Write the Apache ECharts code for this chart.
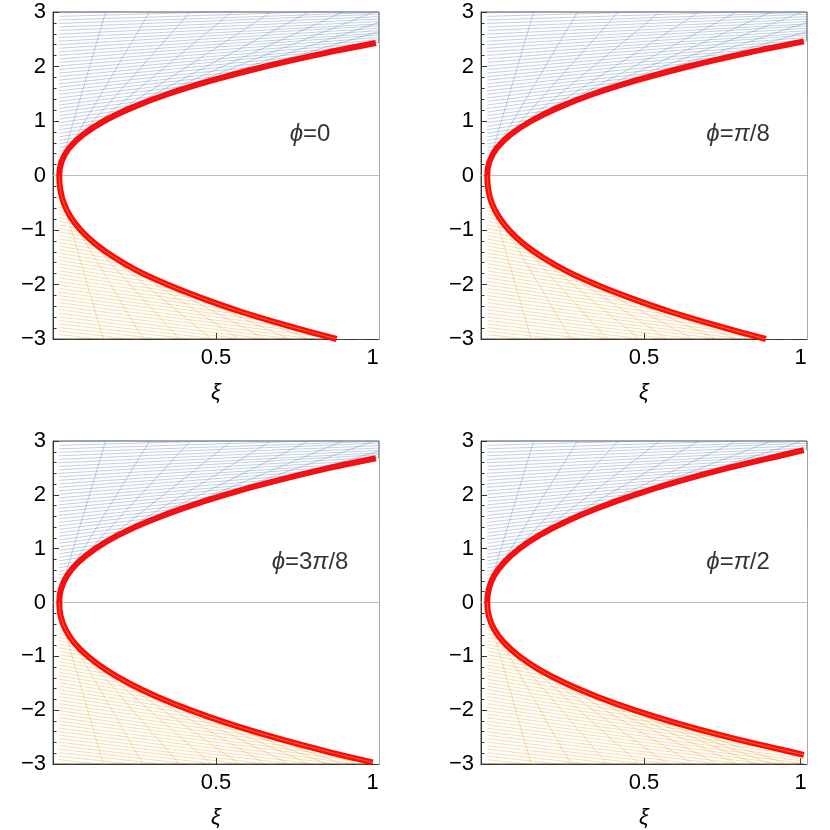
<!DOCTYPE html>
<html><head><meta charset="utf-8">
<script src="https://cdn.jsdelivr.net/npm/echarts@6/dist/echarts.min.js"></script>
<style>html,body{margin:0;padding:0;background:#fff}#c{width:830px;height:830px}</style>
</head><body><div id="c"></div>
<script>
// ---------------- data ----------------
const panelTitles = ['ϕ=0', 'ϕ=π/8', 'ϕ=3π/8', 'ϕ=π/2'];
const titlePos = [0.8, 0.75];
const xTicks = [0.5, 1];

// envelope (red) : [ξ, y] from vertex outwards
const upperP1 = [[0,0],[0.007,0.25],[0.031,0.5],[0.076,0.75],[0.143,1],[0.234,1.25],[0.349,1.5],[0.49,1.75],[0.657,2],[0.851,2.25],[1.01,2.43]];
const lowerP1 = [[0,0],[0.003,-0.25],[0.014,-0.5],[0.035,-0.75],[0.068,-1],[0.114,-1.25],[0.175,-1.5],[0.25,-1.75],[0.345,-2],[0.455,-2.25],[0.58,-2.5],[0.725,-2.75],[0.885,-3]];
const upperP2 = [[0,0],[0.0066,0.25],[0.03,0.5],[0.074,0.75],[0.14,1],[0.228,1.25],[0.34,1.5],[0.478,1.75],[0.641,2],[0.83,2.25],[1.01,2.46]];
const lowerP2 = [[0,0],[0.003,-0.25],[0.014,-0.5],[0.036,-0.75],[0.069,-1],[0.115,-1.25],[0.176,-1.5],[0.252,-1.75],[0.347,-2],[0.458,-2.25],[0.584,-2.5],[0.73,-2.75],[0.889,-3]];
const upperP3 = [[0,0],[0.0055,0.25],[0.025,0.5],[0.061,0.75],[0.115,1],[0.188,1.25],[0.281,1.5],[0.394,1.75],[0.528,2],[0.684,2.25],[0.862,2.5],[1.01,2.68]];
const lowerP3 = [[0,0],[0.0043,-0.25],[0.0198,-0.5],[0.048,-0.75],[0.091,-1],[0.149,-1.25],[0.222,-1.5],[0.312,-1.75],[0.418,-2],[0.541,-2.25],[0.683,-2.5],[0.843,-2.75],[1.0,-2.97]];
const upperP4 = [[0,0],[0.0049,0.25],[0.0223,0.5],[0.0544,0.75],[0.1024,1],[0.167,1.25],[0.25,1.5],[0.351,1.75],[0.47,2],[0.609,2.25],[0.769,2.5],[0.95,2.75],[1.01,2.83]];
const lowerP4 = [[0,0],[0.0049,-0.25],[0.0223,-0.5],[0.0544,-0.75],[0.1024,-1],[0.167,-1.25],[0.25,-1.5],[0.351,-1.75],[0.47,-2],[0.609,-2.25],[0.769,-2.5],[0.95,-2.75],[1.01,-2.83]];

// thin blue lines: intercept at ξ=0 and slope
const blueIntercept = [0.45,0.515,0.58,0.645,0.71,0.775,0.84,0.905,0.97,1.035,
  1.1,1.165,1.23,1.295,1.36,1.425,1.49,1.555,1.62,1.685,
  1.75,1.815,1.88,1.945,2.01,2.075,2.14,2.205,2.27,2.335,
  2.4,2.465,2.53,2.595,2.66,2.725,2.79,2.855,2.92,2.985];
const blueSlope = [1.00,0.98,0.96,0.93,0.91,0.89,0.87,0.85,0.82,0.80,
  0.78,0.76,0.74,0.71,0.69,0.67,0.65,0.62,0.60,0.58,
  0.56,0.54,0.51,0.49,0.47,0.45,0.43,0.40,0.38,0.36,
  0.34,0.31,0.29,0.27,0.25,0.23,0.20,0.18,0.16,0.14];
// thin orange lines
const orangeIntercept = [-0.45,-0.515,-0.58,-0.645,-0.71,-0.775,-0.84,-0.905,-0.97,-1.035,
  -1.1,-1.165,-1.23,-1.295,-1.36,-1.425,-1.49,-1.555,-1.62,-1.685,
  -1.75,-1.815,-1.88,-1.945,-2.01,-2.075,-2.14,-2.205,-2.27,-2.335,
  -2.4,-2.465,-2.53,-2.595,-2.66,-2.725,-2.79,-2.855,-2.92,-2.985];
const orangeSlope = [-1.20,-1.18,-1.17,-1.15,-1.14,-1.12,-1.11,-1.09,-1.08,-1.06,
  -1.05,-1.03,-1.02,-1.00,-0.98,-0.97,-0.95,-0.94,-0.92,-0.91,
  -0.89,-0.88,-0.86,-0.85,-0.83,-0.82,-0.80,-0.78,-0.77,-0.75,
  -0.74,-0.72,-0.71,-0.69,-0.68,-0.66,-0.65,-0.63,-0.62,-0.60];
// steep "fan" lines: where they leave the frame
const blueFanEnd = [[0.148,3],[0.288,3],[0.418,3],[0.55,3],[0.675,3],[0.795,3],[0.905,3],[1.005,3],[1.02,2.81],[1.02,2.64]];
const orangeFanEnd = [[0.14,-3],[0.267,-3],[0.383,-3],[0.485,-3],[0.574,-3],[0.657,-3],[0.733,-3],[0.797,-3],[0.855,-3],[0.905,-3],[0.955,-3]];

// ---------------- layout ----------------
const xMin = -0.02, xMax = 1.02, yMin = -3, yMax = 3;
const gridPos = [[53,12],[481,12],[53,441],[481,441]];
const panels = [[upperP1,lowerP1],[upperP2,lowerP2],[upperP3,lowerP3],[upperP4,lowerP4]];
const FONT = "'Liberation Sans', Arial, 'DejaVu Sans', sans-serif";
const FS = 22;
const TFS = 24;
const blueCol = 'rgba(94,129,181,0.42)';
const orangeCol = 'rgba(230,160,40,0.40)';

function interpX(branch, y) {
  for (let j = 1; j < branch.length; j++) {
    const a = branch[j-1], b = branch[j];
    if ((y - a[1]) * (y - b[1]) <= 0 && a[1] !== b[1]) {
      const t = (y - a[1]) / (b[1] - a[1]);
      return a[0] + t * (b[0] - a[0]);
    }
  }
  return null;
}
function densify(branch) {
  const out = [];
  for (let j = 1; j < branch.length; j++) {
    const a = branch[j-1], b = branch[j];
    for (let t = 0; t < 10; t++) out.push([a[0] + (b[0]-a[0])*t/10, a[1] + (b[1]-a[1])*t/10]);
  }
  out.push(branch[branch.length-1]);
  return out;
}
function fanLine(branch, E, upper) {
  const xc = interpX(branch, E[1]);
  if (xc !== null && E[0] >= xc) return null;
  let best = null, bestA = 0;
  for (const p of densify(branch)) {
    if (upper ? p[1] >= E[1] : p[1] <= E[1]) continue;
    const a = Math.atan2(p[1] - E[1], p[0] - E[0]);
    if (best === null || (upper ? a < bestA : a > bestA)) { best = p; bestA = a; }
  }
  return best ? { coords: [best, E] } : null;
}
function richTitle(s) {
  let out = '';
  for (const ch of s) out += (ch === 'ϕ' || ch === 'π') ? '{i|' + ch + '}' : '{n|' + ch + '}';
  return out;
}

const grids = [], xAxes = [], yAxes = [], series = [];
panels.forEach((pl, i) => {
  const up = pl[0], lo = pl[1];
  grids.push({ left: gridPos[i][0], top: gridPos[i][1], width: 326, height: 327,
    show: true, borderColor: '#555', borderWidth: 1, backgroundColor: 'transparent' });
  xAxes.push({ gridIndex: i, type: 'value', min: xMin, max: xMax,
    name: 'ξ', nameLocation: 'middle', nameGap: 43,
    nameTextStyle: { fontFamily: FONT, fontStyle: 'italic', fontSize: FS, color: '#000' },
    axisLine: { show: true, onZero: false, lineStyle: { color: '#333', width: 1 } },
    axisTick: { show: true, inside: true, length: 6, customValues: xTicks, lineStyle: { color: '#333' } },
    axisLabel: { customValues: xTicks, formatter: v => String(v), fontSize: FS, color: '#000', margin: 8, fontFamily: FONT },
    splitLine: { show: false } });
  yAxes.push({ gridIndex: i, type: 'value', min: yMin, max: yMax, interval: 1,
    axisLine: { show: true, onZero: false, lineStyle: { color: '#333', width: 1 } },
    axisTick: { show: true, inside: true, length: 6, lineStyle: { color: '#333' } },
    minorTick: { show: true, splitNumber: 5, length: 3.5, lineStyle: { color: '#333' } },
    axisLabel: { formatter: v => v < 0 ? '\u2212' + (-v) : String(v), fontSize: FS, color: '#000', margin: 7, fontFamily: FONT },
    splitLine: { show: false }, minorSplitLine: { show: false } });

  const xEnd = xMax + 0.1;
  const blueData = blueIntercept.map((a, k) => ({ coords: [[0, a], [xEnd, a + blueSlope[k] * xEnd]] }));
  const orangeData = orangeIntercept.map((a, k) => ({ coords: [[0, a], [xEnd, a + orangeSlope[k] * xEnd]] }));
  blueFanEnd.forEach(E => { const l = fanLine(up, E, true); if (l) blueData.push(l); });
  orangeFanEnd.forEach(E => { const l = fanLine(lo, E, false); if (l) orangeData.push(l); });

  series.push({ type: 'lines', coordinateSystem: 'cartesian2d', xAxisIndex: i, yAxisIndex: i, clip: true, silent: true, z: 2,
    lineStyle: { color: blueCol, width: 0.9, opacity: 1, curveness: 0 }, data: blueData });
  series.push({ type: 'lines', coordinateSystem: 'cartesian2d', xAxisIndex: i, yAxisIndex: i, clip: true, silent: true, z: 2,
    lineStyle: { color: orangeCol, width: 0.9, opacity: 1, curveness: 0 }, data: orangeData });

  // white interior (right of the envelope)
  series.push({ type: 'custom', xAxisIndex: i, yAxisIndex: i, clip: true, silent: true, z: 3, data: [[0, 0]],
    renderItem: (params, api) => {
      const pts = [];
      for (let j = lo.length - 1; j >= 0; j--) pts.push(api.coord(lo[j]));
      for (let j = 1; j < up.length; j++) pts.push(api.coord(up[j]));
      const ue = up[up.length-1], le = lo[lo.length-1];
      pts.push(api.coord([xMax + 0.2, ue[1]]));
      pts.push(api.coord([xMax + 0.2, yMin - 0.5]));
      pts.push(api.coord([le[0], yMin - 0.5]));
      return { type: 'polygon', shape: { points: pts }, style: { fill: '#fff' } };
    },
    markLine: { silent: true, symbol: ['none', 'none'], label: { show: false }, z: 5,
      lineStyle: { color: '#bdbdbd', width: 1, type: 'solid' }, data: [{ yAxis: 0 }] } });

  const red = lo.slice().reverse().concat(up.slice(1));
  series.push({ type: 'line', xAxisIndex: i, yAxisIndex: i, data: red, showSymbol: false, symbol: 'none',
    smooth: 0.35, silent: true, z: 10, lineStyle: { color: '#ff0a0a', width: 6 } });
  series.push({ type: 'line', xAxisIndex: i, yAxisIndex: i, data: up, showSymbol: false, symbol: 'none',
    smooth: 0.35, silent: true, z: 11, lineStyle: { color: 'rgba(140,70,120,0.45)', width: 1 } });
  series.push({ type: 'line', xAxisIndex: i, yAxisIndex: i, data: lo, showSymbol: false, symbol: 'none',
    smooth: 0.35, silent: true, z: 11, lineStyle: { color: 'rgba(255,150,40,0.7)', width: 1 } });

  series.push({ type: 'scatter', xAxisIndex: i, yAxisIndex: i, data: [titlePos], symbolSize: 0, silent: true, z: 12,
    itemStyle: { color: '#000' },
    label: { show: true, position: 'inside', color: '#000', textBorderWidth: 0, textBorderColor: 'transparent',
      formatter: () => richTitle(panelTitles[i]),
      rich: { n: { fontSize: TFS, fontFamily: FONT, color: '#000', textBorderWidth: 0 },
              i: { fontSize: TFS, fontFamily: FONT, fontStyle: 'italic', color: '#000', textBorderWidth: 0 } } } });
});

const chart = echarts.init(document.getElementById('c'));
chart.setOption({ animation: false, backgroundColor: '#fff', grid: grids, xAxis: xAxes, yAxis: yAxes, series: series });
</script>
</body></html>
